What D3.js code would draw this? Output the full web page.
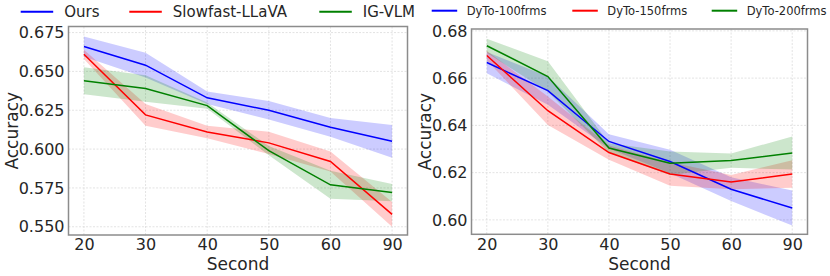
<!DOCTYPE html>
<html><head><meta charset="utf-8">
<script src="https://cdn.jsdelivr.net/npm/d3@7"></script>
<style>body{margin:0;background:#fff}svg{display:block}text{font-family:"DejaVu Sans",sans-serif;fill:#262626}</style>
</head><body><svg id="c" width="830" height="276"></svg>
<script>
const seconds = ["20","30","40","50","60","90"];
// left panel
const leftYTicks = [0.550,0.575,0.600,0.625,0.650,0.675];
const oursMean = [0.666,0.654,0.633,0.625,0.614,0.605];
const oursBand = [0.0065,0.008,0.004,0.006,0.006,0.0105];
const slowMean = [0.661,0.622,0.611,0.604,0.592,0.558];
const slowBand = [0.003,0.007,0.004,0.0072,0.0065,0.008];
const igMean = [0.644,0.639,0.628,0.599,0.577,0.572];
const igBand = [0.0087,0.0085,0.002,0.003,0.009,0.0055];
// right panel
const rightYTicks = [0.60,0.62,0.64,0.66,0.68];
const dyto100Mean = [0.6666,0.6547,0.6332,0.6247,0.613,0.605];
const dyto100Band = [0.0045,0.006,0.003,0.005,0.005,0.0074];
const dyto150Mean = [0.6696,0.6462,0.6285,0.6194,0.616,0.6194];
const dyto150Band = [0.002,0.006,0.003,0.005,0.003,0.0058];
const dyto200Mean = [0.6737,0.6607,0.6304,0.624,0.6251,0.6283];
const dyto200Band = [0.003,0.0065,0.002,0.005,0.003,0.007];

const svg = d3.select("#c");

function panel(cfg){
  const x = d3.scalePoint().domain(seconds).range([cfg.x0,cfg.x1]).padding(0.25);
  const y = d3.scaleLinear().domain(cfg.yDomain).range([cfg.y1,cfg.y0]);
  const g = svg.append("g");
  // grid
  g.selectAll(".gx").data(seconds).enter().append("line")
    .attr("x1",d=>x(d)).attr("x2",d=>x(d)).attr("y1",cfg.y0).attr("y2",cfg.y1)
    .attr("stroke","#dcdcdc").attr("stroke-width",0.8).attr("stroke-dasharray","2,1.5");
  g.selectAll(".gy").data(cfg.yTicks).enter().append("line")
    .attr("x1",cfg.x0).attr("x2",cfg.x1).attr("y1",d=>y(d)).attr("y2",d=>y(d))
    .attr("stroke","#dcdcdc").attr("stroke-width",0.8).attr("stroke-dasharray","2,1.5");
  // series
  cfg.series.forEach(s=>{
    const area = d3.area().x((d,i)=>x(seconds[i])).y0((d,i)=>y(s.mean[i]-s.band[i])).y1((d,i)=>y(s.mean[i]+s.band[i]));
    g.append("path").attr("d",area(s.mean)).attr("fill",s.color).attr("fill-opacity",0.2);
  });
  cfg.series.forEach(s=>{
    const line = d3.line().x((d,i)=>x(seconds[i])).y(d=>y(d));
    g.append("path").attr("d",line(s.mean)).attr("fill","none").attr("stroke",s.color).attr("stroke-width",1.5);
  });
  // frame
  g.append("rect").attr("x",cfg.x0).attr("y",cfg.y0).attr("width",cfg.x1-cfg.x0).attr("height",cfg.y1-cfg.y0)
    .attr("fill","none").attr("stroke","#8c8c8c").attr("stroke-width",1.5);
  // axes
  const ax = g.append("g").attr("transform",`translate(0,${cfg.y1})`).call(d3.axisBottom(x).tickSize(0).tickPadding(4));
  ax.select(".domain").remove();
  ax.selectAll("text").attr("font-size",16).attr("fill","#262626").attr("font-family","DejaVu Sans");
  const ay = g.append("g").attr("transform",`translate(${cfg.x0},0)`).call(d3.axisLeft(y).tickValues(cfg.yTicks).tickFormat(d3.format(cfg.fmt)).tickSize(0).tickPadding(4));
  ay.select(".domain").remove();
  ay.selectAll("text").attr("font-size",16).attr("fill","#262626").attr("font-family","DejaVu Sans");
  g.append("text").attr("x",(cfg.x0+cfg.x1)/2).attr("y",269.5).attr("text-anchor","middle").attr("font-size",17).text("Second");
  g.append("text").attr("transform",`translate(${cfg.ylabX},${(cfg.y0+cfg.y1)/2}) rotate(-90)`).attr("text-anchor","middle").attr("font-size",17).text("Accuracy");
  // legend
  cfg.series.forEach((s,i)=>{
    const lx = cfg.legend[i];
    g.append("line").attr("x1",lx).attr("x2",lx+cfg.legLen).attr("y1",cfg.legY).attr("y2",cfg.legY).attr("stroke",s.color).attr("stroke-width",2);
    g.append("text").attr("x",lx+cfg.legLen+cfg.legGap).attr("y",cfg.legY+cfg.legFont*0.36).attr("font-size",cfg.legFont).text(s.name);
  });
}

panel({x0:68.5,x1:407.5,y0:26.5,y1:235,yDomain:[0.5447,0.6789],yTicks:leftYTicks,fmt:".3f",ylabX:18.3,
  legend:[20.7,129.3,319.3],legLen:32.5,legGap:11,legY:11.7,legFont:15,
  series:[{name:"Ours",mean:oursMean,band:oursBand,color:"blue"},
          {name:"Slowfast-LLaVA",mean:slowMean,band:slowBand,color:"red"},
          {name:"IG-VLM",mean:igMean,band:igBand,color:"green"}]});
panel({x0:471.5,x1:807.5,y0:29,y1:234.3,yDomain:[0.5939,0.6808],yTicks:rightYTicks,fmt:".2f",ylabX:430.5,
  legend:[431.7,572.3,711.7],legLen:25.5,legGap:9.5,legY:10.7,legFont:11.5,
  series:[{name:"DyTo-100frms",mean:dyto100Mean,band:dyto100Band,color:"blue"},
          {name:"DyTo-150frms",mean:dyto150Mean,band:dyto150Band,color:"red"},
          {name:"DyTo-200frms",mean:dyto200Mean,band:dyto200Band,color:"green"}]});
</script></body></html>
